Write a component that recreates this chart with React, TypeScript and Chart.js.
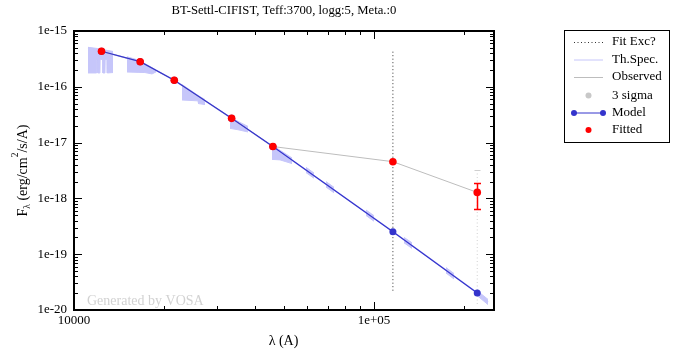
import { useEffect, useRef } from "react";
import { Chart, registerables } from "chart.js";
Chart.register(...registerables);

// ---------- data ----------
const chartTitle = "BT-Settl-CIFIST, Teff:3700, logg:5, Meta.:0";
const xAxisLabel = "λ (A)";
const watermark = "Generated by VOSA";

const filterWave = [12350, 16620, 21590, 33526, 46028, 115608, 220883];
const observedFlux = [4.33e-16, 2.82e-16, 1.31e-16, 2.72e-17, 8.5e-18, 4.55e-18, 1.28e-18];
const modelFlux = [4.33e-16, 2.82e-16, 1.31e-16, 2.72e-17, 8.5e-18, 2.53e-19, 2.02e-20];

const errWave = [220883];
const errLow = [6.5e-19];
const errHigh = [1.9e-18];

const fitExcWave = [115608, 115608];
const fitExcFlux = [4.26e-16, 2.02e-20];

const limitWave = [220883, 220883];
const limitFlux = [3.23e-18, 1.23e-20];

// theoretical spectrum (continuum trace)
const specLineWave = [11135, 12350, 16620, 21590, 33526, 46028, 115608, 220883, 239900];
const specLineFlux = [5.0e-16, 4.33e-16, 2.82e-16, 1.31e-16, 2.72e-17, 8.5e-18, 2.53e-19, 2.02e-20, 1.39e-20];

// theoretical spectrum envelope (upper edge), null = break
const specTopWave = [
  11135, 12000, 12600, 13490, 14200,
  15020, 16600, 17240, 18200, 18770, 20000,
  22910, 25910, 27340, 30000,
  33110, 35200, 38020, 42000,
  45710, 48620, 53310, 56000,
  59350, 63100, 66000,
  69180, 73560, 85000,
  94050, 100000, 115000,
  125900, 133900, 160000,
  173800, 184800, 200000,
  221000, 239900,
];
const specTopFlux = [
  5.1e-16, 4.85e-16, 4.6e-16, 4.3e-16, null,
  3.45e-16, 2.95e-16, 2.6e-16, 2.2e-16, 2.0e-16, null,
  1.1e-16, 7.0e-17, 5.9e-17, null,
  2.95e-17, 2.4e-17, 1.95e-17, null,
  9.0e-18, 7.3e-18, 5.3e-18, null,
  3.6e-18, 2.85e-18, null,
  2.0e-18, 1.58e-18, null,
  6.2e-19, 4.9e-19, null,
  2.0e-19, 1.6e-19, null,
  5.75e-20, 4.5e-20, null,
  2.2e-20, 1.55e-20,
];
// lower edge
const specBotWave = [
  11135, 11880, 11900, 11980, 12000, 12200, 12220, 12470, 12490, 12680, 12700, 12890, 12910, 13490, 14200,
  15020, 17240, 18200, 18770, 20000,
  22910, 25910, 26000, 27340, 30000,
  33110, 35200, 38020, 42000,
  45710, 48620, 53310, 56000,
  59350, 63100, 66000,
  69180, 73560, 85000,
  94050, 100000, 115000,
  125900, 133900, 160000,
  173800, 184800, 200000,
  221000, 239900,
];
const specBotFlux = [
  1.77e-16, 1.77e-16, 3.0e-16, 3.0e-16, 1.77e-16, 1.77e-16, 3.1e-16, 3.1e-16, 1.77e-16, 1.77e-16, 3.1e-16, 3.1e-16, 1.77e-16, 1.8e-16, null,
  1.84e-16, 1.8e-16, 1.7e-16, 1.85e-16, null,
  5.8e-17, 5.6e-17, 5.0e-17, 4.8e-17, null,
  1.8e-17, 1.7e-17, 1.55e-17, null,
  5.0e-18, 4.9e-18, 4.2e-18, null,
  2.9e-18, 2.3e-18, null,
  1.6e-18, 1.26e-18, null,
  4.95e-19, 3.9e-19, null,
  1.6e-19, 1.27e-19, null,
  4.6e-20, 3.6e-20, null,
  1.8e-20, 1.25e-20,
];

const yTickValues = [1e-20, 1e-19, 1e-18, 1e-17, 1e-16, 1e-15];
const yTickLabels = ["1e-20", "1e-19", "1e-18", "1e-17", "1e-16", "1e-15"];
const xTickValues = [10000, 100000];
const xTickLabels = ["10000", "1e+05"];

const legendLabels = ["Fit Exc?", "Th.Spec.", "Observed", "3 sigma", "Model", "Fitted"];

// ---------- styles ----------
const SPEC = "#c6c6fa";
const BLUE = "rgb(52,52,204)";
const RED = "#ff0000";
const GRAY = "#bdbdbd";
const SERIF = "'Liberation Serif', 'Times New Roman', serif";

const pts = (xs: number[], ys: (number | null)[]) => xs.map((x, i) => ({ x, y: ys[i] }));

const decor = {
  id: "decor",
  beforeDatasetsDraw(chart: any) {
    const ctx = chart.ctx;
    const { left, bottom } = chart.chartArea;
    ctx.save();
    ctx.font = `14px ${SERIF}`;
    ctx.fillStyle = "#d2d2d2";
    ctx.textAlign = "left";
    ctx.textBaseline = "alphabetic";
    ctx.fillText(watermark, left + 13, bottom - 5);
    ctx.restore();
  },
  afterDatasetsDraw(chart: any) {
    const ctx = chart.ctx;
    const xs = chart.scales.x, ys = chart.scales.y;
    ctx.save();
    ctx.setLineDash([]);
    // cap on limit line
    ctx.strokeStyle = "#cfcfcf";
    ctx.lineWidth = 1;
    const lx = Math.round(xs.getPixelForValue(limitWave[0])) + 0.5;
    const ly = Math.round(ys.getPixelForValue(limitFlux[0])) + 0.5;
    ctx.beginPath(); ctx.moveTo(lx - 3, ly); ctx.lineTo(lx + 3, ly); ctx.stroke();
    // error bars
    ctx.strokeStyle = RED;
    ctx.lineWidth = 1.5;
    errWave.forEach((w, i) => {
      const x = Math.round(xs.getPixelForValue(w)) + 0.5;
      const y1 = Math.round(ys.getPixelForValue(errLow[i])) + 0.5;
      const y2 = Math.round(ys.getPixelForValue(errHigh[i])) + 0.5;
      ctx.beginPath();
      ctx.moveTo(x, y1); ctx.lineTo(x, y2);
      ctx.moveTo(x - 3.5, y1); ctx.lineTo(x + 3.5, y1);
      ctx.moveTo(x - 3.5, y2); ctx.lineTo(x + 3.5, y2);
      ctx.stroke();
    });
    ctx.restore();
  },
  afterDraw(chart: any) {
    const ctx = chart.ctx;
    const { left, right, top, bottom } = chart.chartArea;
    const xs = chart.scales.x, ys = chart.scales.y;
    ctx.save();
    // frame
    ctx.strokeStyle = "#000";
    ctx.lineWidth = 2;
    ctx.strokeRect(left, top, right - left, bottom - top);
    // ticks
    ctx.lineWidth = 1;
    ctx.beginPath();
    for (let d = -20; d < -15; d++) {
      for (let k = 1; k <= 9; k++) {
        const v = k * Math.pow(10, d);
        const y = Math.round(ys.getPixelForValue(v)) + 0.5;
        const len = k === 1 ? 8 : 4;
        ctx.moveTo(left, y); ctx.lineTo(left + len, y);
        ctx.moveTo(right, y); ctx.lineTo(right - len, y);
      }
    }
    for (let d = 4; d <= 5; d++) {
      for (let k = 1; k <= 9; k++) {
        const v = k * Math.pow(10, d);
        if (v > xs.max) break;
        const x = Math.round(xs.getPixelForValue(v)) + 0.5;
        const len = k === 1 ? 8 : 4;
        ctx.moveTo(x, bottom); ctx.lineTo(x, bottom - len);
        ctx.moveTo(x, top); ctx.lineTo(x, top + len);
      }
    }
    ctx.stroke();

    // tick labels
    ctx.fillStyle = "#000";
    ctx.font = `13px ${SERIF}`;
    ctx.textAlign = "right";
    ctx.textBaseline = "middle";
    yTickValues.forEach((v, i) => ctx.fillText(yTickLabels[i], left - 7, ys.getPixelForValue(v)));
    ctx.textAlign = "center";
    xTickValues.forEach((v, i) => ctx.fillText(xTickLabels[i], xs.getPixelForValue(v), bottom + 11));

    // title
    ctx.font = `12.7px ${SERIF}`;
    ctx.fillText(chartTitle, (left + right) / 2, 10.5);
    // x label
    ctx.font = `14px ${SERIF}`;
    ctx.fillText(xAxisLabel, (left + right) / 2 - 0.5, 341);

    // y label with sub/superscript
    ctx.save();
    ctx.translate(27, 170.5);
    ctx.rotate(-Math.PI / 2);
    ctx.textAlign = "left";
    ctx.textBaseline = "alphabetic";
    const big = `14px ${SERIF}`, small = `9.5px ${SERIF}`;
    const parts = [
      { t: "F", f: big, dy: 0 },
      { t: "λ", f: small, dy: 2.5 },
      { t: " (erg/cm", f: big, dy: 0 },
      { t: "2", f: small, dy: -9 },
      { t: "/s/A)", f: big, dy: 0 },
    ];
    let w = 0;
    parts.forEach((p) => { ctx.font = p.f; w += ctx.measureText(p.t).width; });
    let cx = -w / 2;
    parts.forEach((p) => { ctx.font = p.f; ctx.fillText(p.t, cx, p.dy); cx += ctx.measureText(p.t).width; });
    ctx.restore();

    // legend
    ctx.lineWidth = 1;
    ctx.strokeStyle = "#000";
    ctx.strokeRect(564.5, 30.5, 105, 112);
    const ly = [42, 59.5, 77, 95.5, 113, 130];
    const sx0 = 574, sx1 = 603, sxm = 588.5;
    ctx.font = `13px ${SERIF}`;
    ctx.textAlign = "left";
    ctx.textBaseline = "middle";
    legendLabels.forEach((t, i) => ctx.fillText(t, 612, ly[i]));
    // samples
    ctx.save();
    ctx.setLineDash([1, 2.5]);
    ctx.strokeStyle = "#333";
    ctx.beginPath(); ctx.moveTo(sx0, ly[0] + 0.5); ctx.lineTo(sx1, ly[0] + 0.5); ctx.stroke();
    ctx.restore();
    ctx.strokeStyle = SPEC;
    ctx.beginPath(); ctx.moveTo(sx0, ly[1] + 0.5); ctx.lineTo(sx1, ly[1] + 0.5); ctx.stroke();
    ctx.strokeStyle = GRAY;
    ctx.beginPath(); ctx.moveTo(sx0, ly[2] + 0.5); ctx.lineTo(sx1, ly[2] + 0.5); ctx.stroke();
    ctx.fillStyle = "#c8c8c8";
    ctx.beginPath(); ctx.arc(sxm, ly[3], 3, 0, Math.PI * 2); ctx.fill();
    ctx.strokeStyle = BLUE;
    ctx.beginPath(); ctx.moveTo(sx0, ly[4]); ctx.lineTo(sx1, ly[4]); ctx.stroke();
    ctx.fillStyle = BLUE;
    ctx.beginPath(); ctx.arc(sx0, ly[4], 3, 0, Math.PI * 2); ctx.fill();
    ctx.beginPath(); ctx.arc(sx1, ly[4], 3, 0, Math.PI * 2); ctx.fill();
    ctx.fillStyle = RED;
    ctx.beginPath(); ctx.arc(sxm, ly[5], 3, 0, Math.PI * 2); ctx.fill();
    ctx.restore();
  },
};

export default function App() {
  const ref = useRef<HTMLCanvasElement>(null);
  useEffect(() => {
    document.body.style.margin = "0";
    const chart = new Chart(ref.current as HTMLCanvasElement, {
      type: "scatter",
      data: {
        datasets: [
          {
            label: "specTop",
            data: pts(specTopWave, specTopFlux),
            showLine: true, borderColor: SPEC, borderWidth: 1, pointRadius: 0, fill: false, order: 11,
          } as any,
          {
            label: "specBot",
            data: pts(specBotWave, specBotFlux),
            showLine: true, borderColor: SPEC, backgroundColor: SPEC, borderWidth: 1, pointRadius: 0, fill: "-1", order: 10,
          } as any,
          {
            label: "Th.Spec.",
            data: pts(specLineWave, specLineFlux),
            showLine: true, borderColor: SPEC, borderWidth: 1.5, pointRadius: 0, order: 9,
          } as any,
          {
            label: "Observed",
            data: pts(filterWave, observedFlux),
            showLine: true, borderColor: GRAY, borderWidth: 1, pointRadius: 0, order: 8,
          } as any,
          {
            label: "Fit Exc?",
            data: pts(fitExcWave, fitExcFlux),
            showLine: true, borderColor: "#333", borderWidth: 1, borderDash: [1, 2.5], pointRadius: 0, order: 7,
          } as any,
          {
            label: "limit",
            data: pts(limitWave, limitFlux),
            showLine: true, borderColor: "#cfcfcf", borderWidth: 1, borderDash: [1, 2.5], pointRadius: 0, order: 6,
          } as any,
          {
            label: "Model",
            data: pts(filterWave, modelFlux),
            showLine: true, borderColor: BLUE, borderWidth: 1.2, pointRadius: 3.5,
            pointBackgroundColor: BLUE, pointBorderColor: BLUE, pointBorderWidth: 0, order: 5,
          } as any,
          {
            label: "Fitted",
            data: pts(filterWave, observedFlux),
            showLine: false, pointRadius: 3.8,
            pointBackgroundColor: RED, pointBorderColor: RED, pointBorderWidth: 0, order: 1,
          } as any,
        ],
      },
      options: {
        responsive: false,
        animation: false,
        devicePixelRatio: 1,
        events: [],
        layout: { padding: { left: 74, top: 31, right: 195, bottom: 42 } },
        plugins: { legend: { display: false }, tooltip: { enabled: false }, title: { display: false } },
        scales: {
          x: { type: "logarithmic", min: 10000, max: 251189, display: false },
          y: { type: "logarithmic", min: 1e-20, max: 1e-15, display: false },
        },
      } as any,
      plugins: [decor as any],
    });
    return () => chart.destroy();
  }, []);
  return (
    <div style={{ width: 689, height: 352 }}>
      <canvas ref={ref} width={689} height={352} style={{ display: "block" }} />
    </div>
  );
}
